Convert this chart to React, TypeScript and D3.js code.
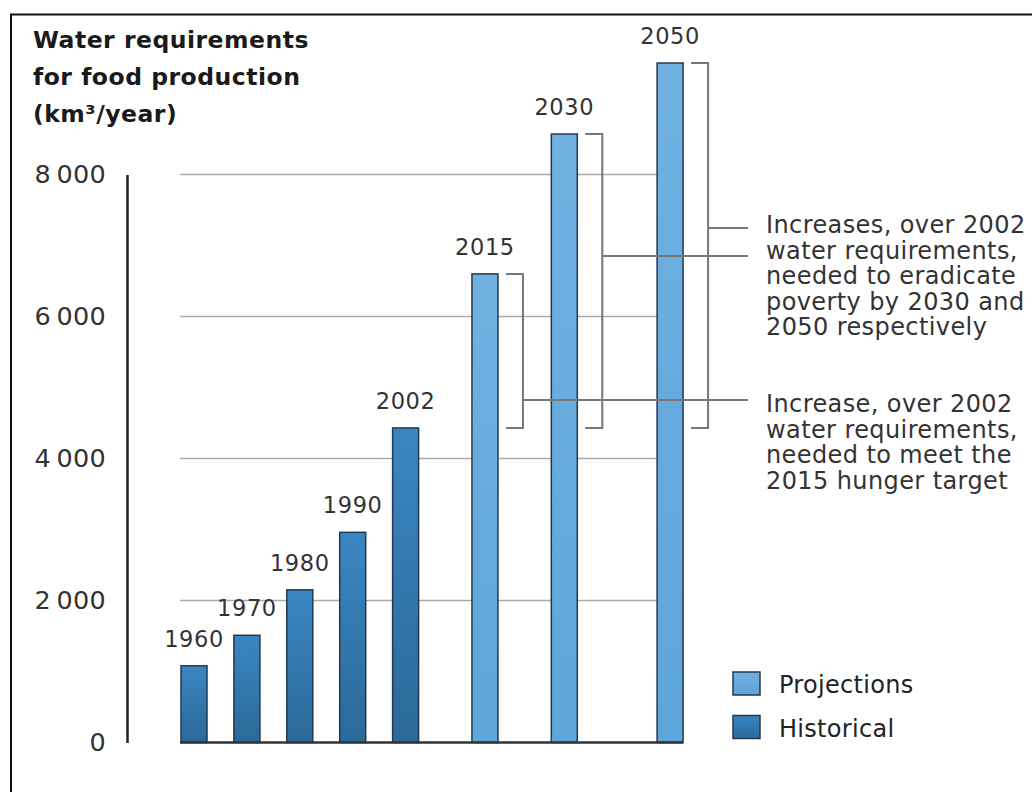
import * as d3 from 'd3';
import React, { useEffect, useRef } from 'react';

// Water requirements for food production (km3/year)
const years = ['1960', '1970', '1980', '1990', '2002', '2015', '2030', '2050'];
const values = [1080, 1510, 2150, 2960, 4430, 6600, 8570, 9570];
const kinds = [
  'Historical',
  'Historical',
  'Historical',
  'Historical',
  'Historical',
  'Projections',
  'Projections',
  'Projections',
];
const yTicks = [0, 2000, 4000, 6000, 8000];
const titleLines = ['Water requirements', 'for food production', '(km³/year)'];
const legendItems = ['Projections', 'Historical'];

// brackets show increase over the 2002 level
const baseYear = '2002';
const bracketYears = ['2015', '2030', '2050'];
const noteOne = [
  'Increases, over 2002',
  'water requirements,',
  'needed to eradicate',
  'poverty by 2030 and',
  '2050 respectively',
];
const noteTwo = [
  'Increase, over 2002',
  'water requirements,',
  'needed to meet the',
  '2015 hunger target',
];

const FONT = '"DejaVu Sans", sans-serif';

export default function App() {
  const axisRef = useRef<SVGGElement>(null);

  const width = 1032;
  const height = 792;

  const y = d3.scaleLinear().domain([0, 8000]).range([742.5, 174.5]);

  // bars sit in slots; projections are spread out wider
  const step = 52.9;
  const x0 = 181;
  const x = d3
    .scaleOrdinal<string, number>()
    .domain(years)
    .range([0, 1, 2, 3, 4, 5.5, 7, 9].map(s => x0 + s * step));
  const barW = 26;

  const fmt = (v: number) => d3.format(',')(v).replace(',', '\u2009');

  useEffect(() => {
    if (!axisRef.current) return;
    const g = d3.select(axisRef.current);
    g.selectAll('*').remove();
    g.call(
      d3
        .axisLeft(y)
        .tickValues(yTicks)
        .tickSize(0)
        .tickPadding(21)
        .tickFormat(d => fmt(d as number))
    );
    g.select('.domain').attr('stroke', '#222').attr('stroke-width', 2.5);
    g.selectAll('text')
      .attr('font-family', FONT)
      .attr('font-size', 25.5)
      .attr('letter-spacing', 0.3)
      .attr('fill', '#333');
  }, []);

  const valueOf = (yr: string) => values[years.indexOf(yr)];
  const baseVal = valueOf(baseYear);
  const lastX = x(years[years.length - 1]);

  const lineH = 25.5;
  const noteX = 766;
  const noteOneY = 233;
  const noteTwoY = 412;
  const connEnd = 748;
  // connector heights, next to the first lines of the notes
  const connectors = [
    { year: '2050', cy: 228 },
    { year: '2030', cy: 256 },
    { year: '2015', cy: 400 },
  ];

  const fillOf = (k: string) =>
    k === 'Historical' ? 'url(#gradHist)' : 'url(#gradProj)';

  return (
    <svg
      width={width}
      height={height}
      style={{ position: 'absolute', left: 0, top: 0, background: '#fff' }}
      fontFamily={FONT}
    >
      <defs>
        <linearGradient id="gradHist" x1="0" y1="0" x2="0" y2="1">
          <stop offset="0%" stopColor="#3a86c3" />
          <stop offset="100%" stopColor="#2b6998" />
        </linearGradient>
        <linearGradient id="gradProj" x1="0" y1="0" x2="0" y2="1">
          <stop offset="0%" stopColor="#70b1e1" />
          <stop offset="100%" stopColor="#5ea5da" />
        </linearGradient>
      </defs>

      {/* frame */}
      <rect x={11} y={14.5} width={1040} height={800} fill="none" stroke="#111" strokeWidth={2} />

      {/* title */}
      {titleLines.map((t, i) => (
        <text
          key={t}
          x={33}
          y={48 + i * 37}
          fontSize={23.5}
          fontWeight="bold"
          letterSpacing={0.5}
          fill="#1a1a1a"
        >
          {t}
        </text>
      ))}

      {/* gridlines */}
      {yTicks
        .filter(t => t > 0)
        .map(t => (
          <line
            key={t}
            x1={x0 - 1}
            x2={lastX}
            y1={y(t)}
            y2={y(t)}
            stroke="#aaa"
            strokeWidth={1.5}
          />
        ))}

      <g ref={axisRef} transform="translate(127,0)" />

      {/* bars */}
      {years.map((yr, i) => (
        <rect
          key={yr}
          x={x(yr)}
          y={y(values[i])}
          width={barW}
          height={y(0) - y(values[i])}
          fill={fillOf(kinds[i])}
          stroke="#24394d"
          strokeWidth={1.5}
        />
      ))}

      {/* baseline */}
      <line
        x1={x0 - 1}
        x2={lastX + barW}
        y1={y(0)}
        y2={y(0)}
        stroke="#333"
        strokeWidth={2.5}
      />

      {/* year labels */}
      {years.map((yr, i) => (
        <text
          key={yr}
          x={x(yr) + barW / 2}
          y={y(values[i]) - 19}
          textAnchor="middle"
          fontSize={22.5}
          letterSpacing={0.6}
          fill="#333"
        >
          {yr}
        </text>
      ))}

      {/* brackets */}
      {bracketYears.map(yr => {
        const bx = x(yr) + barW + 25;
        const top = y(valueOf(yr));
        const bot = y(baseVal);
        return (
          <path
            key={yr}
            d={`M${bx - 17},${top}H${bx}V${bot}H${bx - 17}`}
            fill="none"
            stroke="#777"
            strokeWidth={2}
          />
        );
      })}

      {/* connectors */}
      {connectors.map(c => (
        <line
          key={c.year}
          x1={x(c.year) + barW + 25}
          x2={connEnd}
          y1={c.cy}
          y2={c.cy}
          stroke="#777"
          strokeWidth={2}
        />
      ))}

      {/* notes */}
      {noteOne.map((t, i) => (
        <text
          key={'a' + i}
          x={noteX}
          y={noteOneY + i * lineH}
          fontSize={24}
          letterSpacing={0.4}
          fill="#333"
        >
          {t}
        </text>
      ))}
      {noteTwo.map((t, i) => (
        <text
          key={'b' + i}
          x={noteX}
          y={noteTwoY + i * lineH}
          fontSize={24}
          letterSpacing={0.4}
          fill="#333"
        >
          {t}
        </text>
      ))}

      {/* legend */}
      {legendItems.map((k, i) => (
        <g key={k} transform={`translate(733,${672 + i * 43.5})`}>
          <rect width={27} height={23} fill={fillOf(k)} stroke="#24394d" strokeWidth={1.5} />
          <text x={46} y={21} fontSize={24} letterSpacing={0.3} fill="#222">
            {k}
          </text>
        </g>
      ))}
    </svg>
  );
}
